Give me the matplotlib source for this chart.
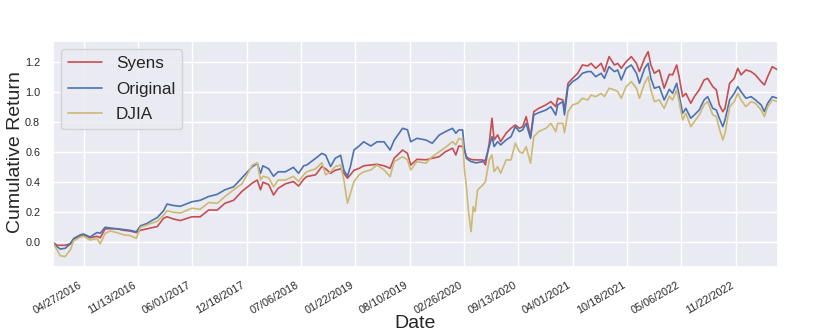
import matplotlib
matplotlib.use("Agg")
import matplotlib.pyplot as plt
import seaborn as sns
import pandas as pd

sns.set_theme(style="darkgrid")
plt.rcParams['font.family'] = ['Liberation Sans', 'DejaVu Sans']

# dates (approx.)
dates = [
    "2016-01-04", "2016-01-20", "2016-02-01", "2016-02-19", "2016-03-09", "2016-03-21", "2016-04-15", "2016-04-27", "2016-05-20", "2016-06-15",
    "2016-06-27", "2016-07-15", "2016-08-03", "2016-08-26", "2016-09-21", "2016-10-14", "2016-11-07", "2016-11-22", "2016-12-16", "2016-12-29",
    "2017-01-23", "2017-02-15", "2017-02-28", "2017-03-24", "2017-04-18", "2017-05-30", "2017-06-30", "2017-07-31", "2017-09-01", "2017-09-29",
    "2017-10-31", "2017-12-01", "2018-01-08", "2018-01-26", "2018-02-07", "2018-02-16", "2018-03-09", "2018-03-27", "2018-04-13", "2018-05-10",
    "2018-06-08", "2018-06-27", "2018-07-16", "2018-07-27", "2018-08-29", "2018-09-21", "2018-10-05", "2018-10-23", "2018-11-09", "2018-11-29",
    "2018-12-11", "2018-12-24", "2019-01-04", "2019-01-17", "2019-02-05", "2019-02-22", "2019-03-20", "2019-04-12", "2019-05-08", "2019-05-30",
    "2019-06-14", "2019-07-15", "2019-08-02", "2019-08-14", "2019-09-06", "2019-10-09", "2019-11-01", "2019-11-27", "2019-12-20", "2020-01-15",
    "2020-01-27", "2020-02-07", "2020-02-21", "2020-02-28", "2020-03-06", "2020-03-13", "2020-03-23", "2020-03-31", "2020-04-07", "2020-04-16",
    "2020-05-05", "2020-05-15", "2020-05-29", "2020-06-08", "2020-06-16", "2020-06-29", "2020-07-10", "2020-07-30", "2020-08-17", "2020-09-02",
    "2020-09-17", "2020-09-29", "2020-10-12", "2020-10-28", "2020-11-09", "2020-11-27", "2020-12-24", "2021-01-11", "2021-01-29", "2021-02-05",
    "2021-02-24", "2021-03-02", "2021-03-15", "2021-04-01", "2021-04-20", "2021-05-07", "2021-05-27", "2021-06-08", "2021-06-25", "2021-07-15",
    "2021-07-27", "2021-08-13", "2021-09-02", "2021-09-14", "2021-09-27", "2021-10-15", "2021-11-03", "2021-11-22", "2021-12-03", "2021-12-22",
    "2022-01-04", "2022-01-14", "2022-01-27", "2022-02-14", "2022-03-04", "2022-03-23", "2022-04-04", "2022-04-19", "2022-04-28", "2022-05-11",
    "2022-05-23", "2022-06-10", "2022-06-23", "2022-07-11", "2022-07-29", "2022-08-11", "2022-08-30", "2022-09-12", "2022-09-23", "2022-10-06",
    "2022-10-14", "2022-10-31", "2022-11-17", "2022-11-30", "2022-12-12", "2022-12-30", "2023-01-18", "2023-02-03", "2023-02-24", "2023-03-08",
    "2023-03-20", "2023-04-06", "2023-04-26",
]

syens = [
    0.0, -0.02, -0.02, -0.02, -0.01, 0.02, 0.04, 0.05, 0.03, 0.04,
    0.03, 0.09, 0.09, 0.09, 0.08, 0.075, 0.065, 0.08, 0.09, 0.095,
    0.105, 0.16, 0.17, 0.155, 0.145, 0.17, 0.17, 0.215, 0.215, 0.26,
    0.28, 0.34, 0.395, 0.415, 0.35, 0.40, 0.385, 0.315, 0.36, 0.39,
    0.405, 0.375, 0.42, 0.438, 0.45, 0.505, 0.49, 0.46, 0.48, 0.49,
    0.46, 0.427, 0.45, 0.48, 0.493, 0.51, 0.515, 0.52, 0.51, 0.493,
    0.56, 0.615, 0.593, 0.515, 0.553, 0.55, 0.56, 0.571, 0.604, 0.627,
    0.582, 0.642, 0.638, 0.616, 0.571, 0.56, 0.553, 0.55, 0.55, 0.549,
    0.549, 0.516, 0.66, 0.827, 0.682, 0.716, 0.671, 0.727, 0.76, 0.782,
    0.76, 0.771, 0.838, 0.704, 0.871, 0.893, 0.916, 0.938, 0.904, 0.96,
    0.949, 0.882, 1.06, 1.093, 1.127, 1.182, 1.176, 1.193, 1.16, 1.193,
    1.138, 1.238, 1.182, 1.193, 1.16, 1.204, 1.238, 1.193, 1.138, 1.227,
    1.271, 1.182, 1.127, 1.149, 1.027, 1.12, 1.116, 1.182, 1.104, 0.971,
    0.993, 0.927, 0.971, 1.016, 1.082, 1.093, 1.038, 1.016, 0.916, 0.871,
    0.893, 1.06, 1.093, 1.16, 1.116, 1.149, 1.138, 1.116, 1.071, 1.049,
    1.104, 1.171, 1.149,
]

original = [
    0.0, -0.03, -0.045, -0.04, -0.01, 0.025, 0.05, 0.055, 0.035, 0.065,
    0.06, 0.10, 0.095, 0.09, 0.085, 0.08, 0.07, 0.11, 0.125, 0.14,
    0.165, 0.21, 0.255, 0.245, 0.24, 0.27, 0.28, 0.305, 0.32, 0.35,
    0.37, 0.43, 0.505, 0.525, 0.46, 0.51, 0.49, 0.44, 0.47, 0.47,
    0.50, 0.46, 0.51, 0.515, 0.56, 0.593, 0.58, 0.505, 0.56, 0.58,
    0.48, 0.44, 0.505, 0.615, 0.642, 0.67, 0.642, 0.67, 0.67, 0.615,
    0.68, 0.76, 0.75, 0.67, 0.693, 0.682, 0.66, 0.715, 0.738, 0.76,
    0.727, 0.749, 0.749, 0.616, 0.56, 0.55, 0.538, 0.535, 0.53, 0.531,
    0.538, 0.549, 0.638, 0.704, 0.638, 0.671, 0.649, 0.682, 0.704, 0.771,
    0.738, 0.749, 0.793, 0.693, 0.849, 0.864, 0.882, 0.904, 0.849, 0.916,
    0.938, 0.849, 1.038, 1.071, 1.093, 1.127, 1.138, 1.138, 1.104, 1.127,
    1.093, 1.171, 1.138, 1.149, 1.082, 1.16, 1.182, 1.127, 1.06, 1.16,
    1.193, 1.093, 1.027, 1.038, 0.949, 1.02, 0.993, 1.06, 0.982, 0.86,
    0.893, 0.827, 0.849, 0.882, 0.949, 0.971, 0.893, 0.882, 0.827, 0.771,
    0.816, 0.949, 0.993, 1.038, 1.004, 0.96, 0.971, 0.949, 0.916, 0.871,
    0.927, 0.971, 0.96,
]

djia = [
    0.0, -0.05, -0.09, -0.095, -0.05, 0.01, 0.035, 0.04, 0.015, 0.025,
    -0.01, 0.06, 0.075, 0.065, 0.05, 0.045, 0.027, 0.10, 0.115, 0.125,
    0.14, 0.18, 0.21, 0.20, 0.195, 0.227, 0.22, 0.265, 0.26, 0.305,
    0.35, 0.39, 0.515, 0.53, 0.415, 0.44, 0.43, 0.37, 0.415, 0.415,
    0.44, 0.405, 0.45, 0.47, 0.49, 0.53, 0.45, 0.47, 0.505, 0.515,
    0.415, 0.26, 0.327, 0.405, 0.45, 0.47, 0.482, 0.515, 0.482, 0.438,
    0.538, 0.57, 0.55, 0.482, 0.538, 0.527, 0.571, 0.604, 0.633, 0.671,
    0.649, 0.693, 0.682, 0.48, 0.371, 0.216, 0.071, 0.238, 0.204, 0.349,
    0.382, 0.404, 0.549, 0.582, 0.471, 0.504, 0.46, 0.549, 0.549, 0.66,
    0.604, 0.593, 0.638, 0.527, 0.704, 0.738, 0.76, 0.793, 0.738, 0.793,
    0.793, 0.731, 0.871, 0.916, 0.927, 0.96, 0.949, 0.982, 0.971, 0.993,
    0.971, 1.027, 1.016, 1.004, 0.96, 1.038, 1.071, 1.027, 0.96, 1.06,
    1.104, 1.016, 0.938, 0.949, 0.893, 0.975, 0.949, 1.016, 0.938, 0.816,
    0.86, 0.771, 0.804, 0.849, 0.916, 0.938, 0.849, 0.838, 0.76, 0.682,
    0.727, 0.904, 0.938, 0.993, 0.949, 0.904, 0.938, 0.927, 0.882, 0.838,
    0.904, 0.949, 0.938,
]

tick_labels = ["04/27/2016", "11/13/2016", "06/01/2017", "12/18/2017", "07/06/2018",
               "01/22/2019", "08/10/2019", "02/26/2020", "09/13/2020", "04/01/2021",
               "10/18/2021", "05/06/2022", "11/22/2022"]

x = pd.to_datetime(dates)
ticks = pd.to_datetime(tick_labels, format="%m/%d/%Y")

fig = plt.figure(figsize=(8.3, 3.35), dpi=100)
ax = fig.add_axes([0.0635, 0.202, 0.8735, 0.6765])

ax.plot(x, syens, color="#C44E52", lw=1.2, label="Syens")
ax.plot(x, original, color="#4C72B0", lw=1.2, label="Original")
ax.plot(x, djia, color="#CCB974", lw=1.2, label="DJIA")

ax.set_xlim(x[0], x[-1])
ax.set_ylim(-0.167, 1.344)
ax.set_yticks([0.0, 0.2, 0.4, 0.6, 0.8, 1.0, 1.2])
ax.set_xticks(ticks)
ax.set_xticklabels(tick_labels, rotation=30, ha="right", fontsize=7.8)
ax.tick_params(axis="y", labelsize=7.8)
ax.tick_params(axis="both", pad=3)

ax.set_xlabel("Date", fontsize=14)
ax.set_ylabel("Cumulative Return", fontsize=14)
ax.xaxis.set_label_coords(0.5, -0.212)
ax.yaxis.set_label_coords(-0.040, 0.51)
ax.legend(loc="upper left", fontsize=12.3, labelspacing=0.62)

fig.savefig("out.png", dpi=100)
